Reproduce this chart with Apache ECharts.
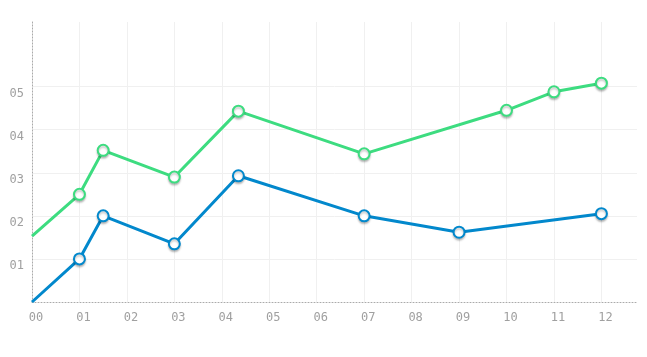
<!DOCTYPE html>
<html>
<head>
<meta charset="utf-8">
<script src="https://cdn.jsdelivr.net/npm/echarts@6/dist/echarts.min.js"></script>
<style>html,body{margin:0;padding:0;background:#fff}#c{width:647px;height:357px}</style>
</head>
<body>
<div id="c"></div>
<script>
// X positions of points and values
const blueX = [0, 1, 1.5, 3, 4.35, 7, 9, 12];
const blueY = [0, 1.0, 2.0, 1.35, 2.93, 2.0, 1.62, 2.05];
const greenX = [0, 1, 1.5, 3, 4.35, 7, 10, 11, 12];
const greenY = [1.53, 2.5, 3.52, 2.9, 4.43, 3.44, 4.45, 4.88, 5.08];
const xTicks = [0,1,2,3,4,5,6,7,8,9,10,11,12];
const yTicks = [1,2,3,4,5];

function pad(v){ return (v < 10 ? '0' : '') + v; }
function build(xs, ys){
  return xs.map((x,i) => i === 0 ? {value:[x, ys[i]], symbol:'none'} : {value:[x, ys[i]]});
}
const labelFont = {fontFamily:'DejaVu Sans Mono', fontSize:12, color:'#a0a0a0'};
const axisLine = {show:true, onZero:false, lineStyle:{color:'#aaa', type:[1,2], width:1}};
const chart = echarts.init(document.getElementById('c'));
chart.setOption({
  animation:false,
  grid:{left:32, right:10, top:22, bottom:55, containLabel:false},
  xAxis:{
    type:'value', min:0, max:12.75,
    axisLine:axisLine,
    axisTick:{show:false, customValues:xTicks},
    axisLabel:Object.assign({customValues:xTicks, margin:10, padding:[0,0,0,8], formatter:v=>pad(v)}, labelFont),
    splitLine:{show:true, lineStyle:{color:'#f0f0f0', width:1}}
  },
  yAxis:{
    type:'value', min:0, max:6.5,
    axisLine:axisLine,
    axisTick:{show:false, customValues:yTicks},
    axisLabel:Object.assign({customValues:yTicks, margin:8, verticalAlign:'top', padding:[1,0,0,0], formatter:v=>pad(v)}, labelFont),
    splitLine:{show:true, lineStyle:{color:'#f0f0f0', width:1}}
  },
  series:[
    {type:'line', data:build(greenX, greenY), symbol:'circle', symbolSize:11, showAllSymbol:true,
     lineStyle:{color:'#3ddc80', width:3},
     itemStyle:{color:'#fff', borderColor:'#3ddc80', borderWidth:2, shadowBlur:2, shadowColor:'rgba(0,0,0,0.22)', shadowOffsetY:2}},
    {type:'line', data:build(blueX, blueY), symbol:'circle', symbolSize:11, showAllSymbol:true,
     lineStyle:{color:'#0288cc', width:3},
     itemStyle:{color:'#fff', borderColor:'#0288cc', borderWidth:2, shadowBlur:2, shadowColor:'rgba(0,0,0,0.22)', shadowOffsetY:2}}
  ]
});
</script>
</body>
</html>
